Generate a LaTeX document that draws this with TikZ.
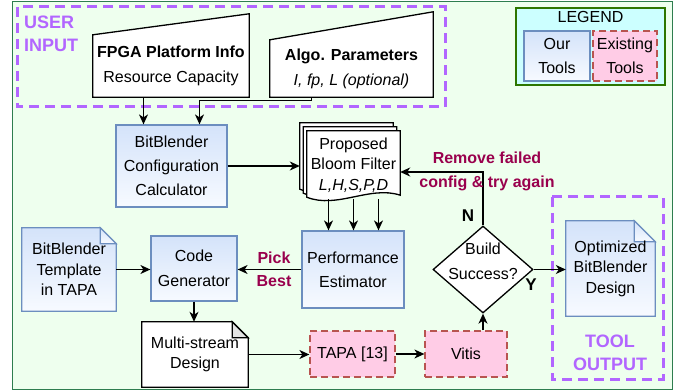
\documentclass[tikz,border=0pt]{standalone}
\usepackage{fontspec}
\setmainfont{Liberation Sans}
\usetikzlibrary{arrows.meta,shapes.geometric,calc}

\definecolor{framegreen}{HTML}{2E7D4F}
\definecolor{bggreen}{HTML}{EEFFEE}
\definecolor{regionpurple}{HTML}{B266FF}
\definecolor{oursdraw}{HTML}{6C8EBF}
\definecolor{ourstop}{HTML}{D4E3FA}
\definecolor{oursbot}{HTML}{F7FAFF}
\definecolor{oursfold}{HTML}{C5D3E8}
\definecolor{greyfold}{HTML}{E3E3E3}
\definecolor{theirsfill}{HTML}{FFCCE6}
\definecolor{theirsdraw}{HTML}{B85450}
\definecolor{legendfill}{HTML}{CCFFFF}
\definecolor{legenddraw}{HTML}{2D7600}
\definecolor{wine}{HTML}{99004D}

\pgfdeclarelayer{bg}
\pgfdeclarelayer{outline}
\pgfsetlayers{bg,outline,main}

\begin{document}
\begin{tikzpicture}[x=1pt,y=-1pt,font=\fontsize{16}{24}\selectfont,
    arr/.style={line width=1.3pt,-{Stealth[length=10pt,width=9pt,inset=3pt]}},
    plain/.style={align=center,inner sep=0pt},
    tight/.style={font=\fontsize{16}{20.5}\selectfont},
    ours/.style={plain,draw=oursdraw,line width=1.2pt,top color=ourstop,bottom color=oursbot},
    theirs/.style={plain,draw=theirsdraw,fill=theirsfill,line width=1.2pt,dash pattern=on 7pt off 4pt},
    bluenote/.style={draw=oursdraw,line width=1.2pt,top color=ourstop,bottom color=oursbot},
    whitenote/.style={draw=black,line width=1.3pt,fill=white},
    region/.style={draw=regionpurple,line width=3pt,dash pattern=on 10pt off 6pt},
    tag/.style={plain,text=regionpurple,font=\bfseries\fontsize{18}{23}\selectfont},
    remark/.style={plain,text=wine,font=\bfseries\fontsize{16}{23.5}\selectfont},
    yn/.style={plain,font=\bfseries\fontsize{17}{20}\selectfont},
    legbox/.style={draw=legenddraw,fill=legendfill,line width=1.5pt,inner sep=0pt}]
  \useasboundingbox (0,0) rectangle (683,390);

  % frame and dashed regions
  \begin{pgfonlayer}{bg}
    \draw[framegreen,fill=bggreen,line width=1pt] (12,2) rectangle (672,389);
    \draw[region] (17,7) rectangle (445,107);
    \draw[region] (552,197) rectangle (663,379);
  \end{pgfonlayer}
  \node[tag,anchor=west,align=left] (usertag) at (24,33.5) {USER\\INPUT};
  \node[tag] (tooltag) at (610,353) {TOOL\\OUTPUT};

  % legend
  \node[legbox,minimum width=149,minimum height=77] (legend) at (590.5,46.5) {};
  \node[plain] (legtitle) at (590.5,17) {LEGEND};
  \node[ours,minimum width=66,minimum height=50] (ourkey) at (557,56) {Our\\Tools};
  \node[theirs,minimum width=64,minimum height=50] (theirkey) at (625,56) {Existing\\Tools};

  % user input
  \node[plain,font=\fontsize{16}{25}\selectfont,minimum width=156,minimum height=62] (fpga) at (171,66)
    {\textbf{FPGA Platform Info}\\Resource Capacity};
  \node[plain,font=\fontsize{16}{25}\selectfont,minimum width=163,minimum height=57] (algo) at (351.5,68.5)
    {\textbf{Algo. Parameters}\\\textit{I, fp, L (optional)}};

  % flow
  \node[ours,minimum width=111,minimum height=82] (calc) at (171.5,166) {BitBlender\\Configuration\\Calculator};
  \node[plain,tight,minimum width=93,minimum height=68] (bloom) at (353.5,165) {Proposed\\Bloom Filter\\\textit{L,H,S,P,D}};
  \node[ours,minimum width=102,minimum height=77] (perf) at (353,269.5) {Performance\\Estimator};
  \node[ours,minimum width=86,minimum height=65,font=\fontsize{16}{25}\selectfont] (code) at (194,268.5) {Code\\Generator};
  \node[plain,tight,minimum width=94,minimum height=83] (tmpl) at (69,269.5) {BitBlender\\Template\\in TAPA};
  \node[plain,tight,minimum width=106,minimum height=65] (multi) at (195,354.5) {Multi-stream\\Design};
  \node[theirs,minimum width=85,minimum height=46] (tapa) at (352.5,354) {TAPA [13]};
  \node[theirs,minimum width=82,minimum height=46] (vitis) at (466,354) {Vitis};
  \node[draw,diamond,fill=white,line width=1.3pt,minimum width=100,minimum height=87,inner sep=0pt] (build) at (483,269.5) {};
  \node[plain,font=\fontsize{16}{25}\selectfont] (buildtxt) at (483,261.5) {Build\\Success?};
  \node[plain,tight,minimum width=89,minimum height=95] (opt) at (610.5,268.5) {Optimized\\BitBlender\\Design};

  % outlines drawn behind the texts
  \begin{pgfonlayer}{outline}
    \foreach \n/\s in {fpga/21,algo/28}
      \draw[line width=1.3pt,fill=white] (\n.south west) -- (\n.north west) -- ([yshift=\s pt]\n.north east) -- (\n.south east) -- cycle;
    \foreach \k in {2,1,0}
      \draw[line width=1.3pt,fill=white] ($(bloom.south west)+(-3.5*\k,-2-4*\k)$) -- ($(bloom.north west)+(-3.5*\k,-4*\k)$)
        -- ($(bloom.north east)+(-3.5*\k,-4*\k)$) -- ($(bloom.south east)+(-3.5*\k,-4-4*\k)$)
        .. controls +(-30,-10) and +(30,12) .. ($(bloom.south west)+(-3.5*\k,-2-4*\k)$) -- cycle;
    \foreach \n/\f/\look/\fc in {tmpl/16/bluenote/oursfold,multi/16/whitenote/greyfold,opt/21/bluenote/oursfold} {
      \draw[\look] (\n.south west) -- (\n.north west) -- ([xshift=-\f pt]\n.north east)
        -- ([yshift=-\f pt]\n.north east) -- (\n.south east) -- cycle;
      \draw[\look,fill=\fc] ([xshift=-\f pt]\n.north east) -- ([xshift=-\f pt,yshift=-\f pt]\n.north east)
        -- ([yshift=-\f pt]\n.north east) -- cycle;
    }
  \end{pgfonlayer}

  % connectors
  \draw[arr] ([xshift=-28pt]calc.north |- fpga.south) -- ([xshift=-28pt]calc.north);
  \draw[arr] ([xshift=-40pt]algo.south) -- ++(0,3) -| ([xshift=28pt]calc.north);
  \draw[arr] (calc.east) -- ($(calc.east -| bloom.west)+(-7,0)$);
  \foreach \dx in {-25,0,25}
    \draw[arr] ([xshift=\dx pt]bloom.south) -- ([xshift=\dx pt]bloom.south |- perf.north);
  \draw[arr] (perf.west) -- (perf.west -| code.east);
  \draw[arr] (tmpl.east) -- (tmpl.east -| code.west);
  \draw[arr] (code.south) -- (code.south |- multi.north);
  \draw[arr] (multi.east) -- (multi.east -| tapa.west);
  \draw[arr] (tapa.east) -- (tapa.east -| vitis.west);
  \draw[arr] (vitis.north -| build.south) -- (build.south);
  \draw[arr] (build.north) |- ([yshift=-7pt]bloom.east);
  \draw[arr] (build.east) -- (build.east -| opt.west);

  % labels
  \node[remark] (pick) at (274,269.5) {Pick\\Best};
  \node[remark] (retry) at (487,171.5) {Remove failed\\config \& try again};
  \node[yn] (no) at (468,216) {N};
  \node[yn] (yes) at (531,285) {Y};
\end{tikzpicture}
\end{document}
